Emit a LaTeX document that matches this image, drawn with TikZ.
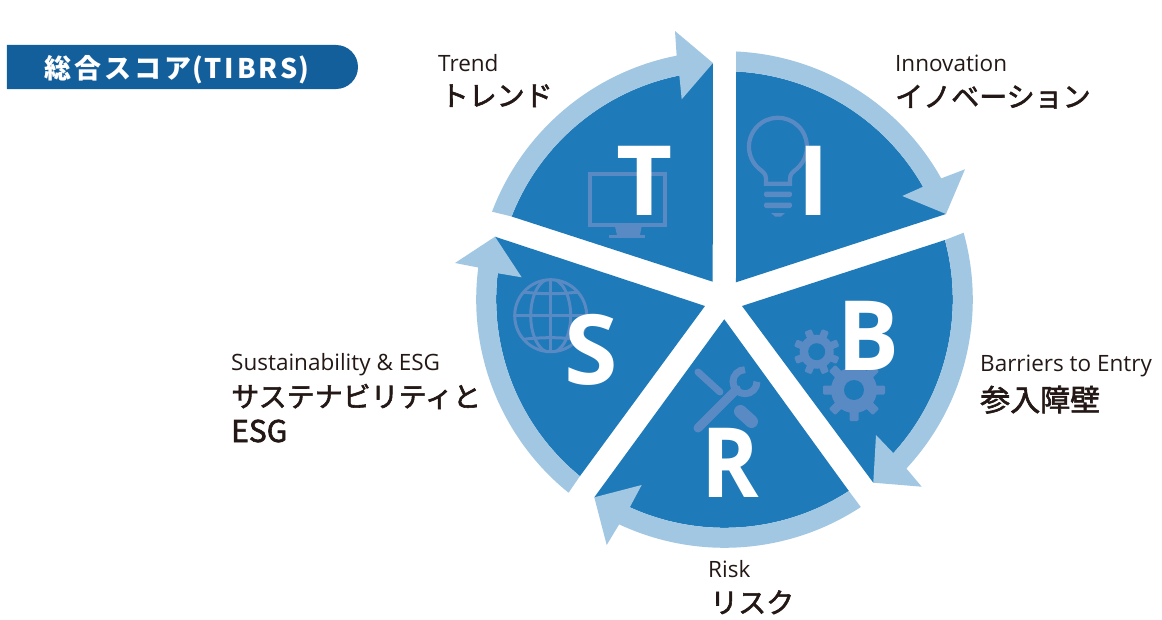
\documentclass[tikz,border=0pt]{standalone}
\usepackage{fontspec}
\setmainfont{Open Sans}
\newfontfamily\jp[FakeBold=2]{Noto Sans CJK JP}
\newfontfamily\hdr[LetterSpace=11]{Noto Sans CJK JP}
\newfontfamily\bigltr{Open Sans}
\definecolor{dk}{HTML}{1E7AB8}
\definecolor{lt}{HTML}{A2C7E2}
\definecolor{ic}{HTML}{5A8AC4}
\definecolor{hd}{HTML}{135F9C}
\definecolor{tx}{HTML}{231815}
\tikzset{
 en/.style={anchor=base west,inner sep=0pt,text=tx,font=\fontsize{22.5}{22.5}\selectfont},
 ja/.style={anchor=base west,inner sep=0pt,text=tx,font=\fontsize{28}{28}\jp},
 ltr/.style={anchor=base,inner sep=0pt,text=white,font=\fontsize{97}{97}\bigltr\bfseries},
 iconline/.style={draw=ic,line width=4pt},
 iconfill/.style={fill=ic}
}
\newcommand{\gearicon}[7]{% x y outer body hole toothw rot
 \begin{scope}[shift={(#1,#2)},rotate=#7]
  \foreach \a in {0,45,...,315}{
   \fill[ic,rotate=\a,rounded corners=1.2pt] (-#6/2,0) rectangle (#6/2,#3);}
  \fill[ic] (0,0) circle[radius=#4 pt];
  \fill[dk] (0,0) circle[radius=#5 pt];
 \end{scope}}
\begin{document}
\begin{tikzpicture}[x=1pt,y=1pt]
\useasboundingbox (-724.5,-319.5) rectangle (437.5,299.5);
% header
\fill[hd] (-717.5,254.5) -- (-388.5,254.5) arc[start angle=90,end angle=-90,radius=22pt] -- (-717.5,210.5) -- cycle;
\node[anchor=base west,inner sep=0pt,text=white,font=\fontsize{27}{27}\hdr\bfseries] (title) at (-680,221) {総合スコア\hspace{1pt}(\hspace{1pt}TIBRS\hspace{1pt})};
% sector T
\fill[dk] (-11.8,17.8) -- (158.7:228.5) arc[start angle=158.7,end angle=101.4,radius=228.5pt] -- (-11.5,236.5) -- cycle;
\fill[lt] (159.3:248.5) arc[start angle=159.3,end angle=101.1,radius=248.5pt] -- (-49.5,268.5) -- (-11.5,236.5) -- (-42.8,200.2) -- (101.4:228.5) arc[start angle=101.4,end angle=158.7,radius=228.5pt] -- cycle;
% sector I
\fill[dk] (11.5,17.2) -- (87.1:228.3) arc[start angle=87.1,end angle=29.6,radius=228.3pt] -- (221.5,85.5) -- cycle;
\fill[lt] (87.3:248.3) arc[start angle=87.3,end angle=29.2,radius=248.3pt] -- (240.5,130.2) -- (221.5,85.5) -- (177.8,103.5) -- (29.6:228.3) arc[start angle=29.6,end angle=87.1,radius=228.3pt] -- cycle;
% sector B
\fill[dk] (17.5,-6.5) -- (15.1:228.3) arc[start angle=15.1,end angle=-42.3,radius=228.3pt] -- (148.8,-183.2) -- cycle;
\fill[lt] (15.6:248.3) arc[start angle=15.6,end angle=-42.9,radius=248.3pt] -- (197.2,-187.2) -- (148.8,-183.2) -- (151.5,-135.5) -- (-42.3:228.3) arc[start angle=-42.3,end angle=15.1,radius=228.3pt] -- cycle;
% sector R
\fill[dk] (-0.2,-19.8) -- (-57:228.3) arc[start angle=-57,end angle=-114.5,radius=228.3pt] -- (-130.2,-197.8) -- cycle;
\fill[lt] (-56.7:248.3) arc[start angle=-56.7,end angle=-115.1,radius=248.3pt] -- (-117.8,-245.5) -- (-130.2,-197.8) -- (-82.8,-185.5) -- (-114.5:228.3) arc[start angle=-114.5,end angle=-57,radius=228.3pt] -- cycle;
% sector S
\fill[dk] (-19.5,-6.5) -- (230.7:228.3) arc[start angle=230.7,end angle=173.4,radius=228.3pt] -- (-229.5,62.8) -- cycle;
\fill[lt] (231.1:248.3) arc[start angle=231.1,end angle=172.6,radius=248.3pt] -- (-269.5,36.5) -- (-229.5,62.8) -- (-202.8,22.2) -- (173.4:228.3) arc[start angle=173.4,end angle=230.7,radius=228.3pt] -- cycle;
% monitor icon
\draw[iconline] (-134.2,125.8) rectangle (-59.8,74.8);
\fill[ic] (-109.5,73) -- (-82.8,73) -- (-84.5,64.5) -- (-107.5,64.5) -- cycle;
\fill[ic] (-115,64.5) rectangle (-79,61.5);
% bulb icon
\begin{scope}[shift={(53.5,152.8)}]
 \draw[iconline,line width=4.2pt] (16.6,-23.8) arc[start angle=-55,end angle=235,radius=29pt] .. controls (-12,-28) .. (-12,-37) -- (12,-37) .. controls (12,-28) .. (16.6,-23.8);
 \fill[ic,rounded corners=1.5pt] (-13.8,-44.8) rectangle (13.8,-50.3);
 \fill[ic,rounded corners=1.5pt] (-13.8,-55.8) rectangle (13.8,-61.3);
 \fill[ic] (-6.8,-66.3) -- (6.8,-66.3) -- (3,-70) -- (-3,-70) -- cycle;
\end{scope}
% globe icon
\begin{scope}[shift={(-173.8,-16.2)}]
 \begin{scope}
  \clip (0,0) circle[radius=37pt];
  \draw[ic,line width=3pt] (0,0) ellipse[x radius=20pt,y radius=37pt];
  \draw[ic,line width=3pt] (0,-38) -- (0,38);
  \draw[ic,line width=3pt] (-38,0) -- (38,0);
  \draw[ic,line width=3pt] (-38,25) .. controls (-12,21) and (12,21) .. (38,25);
  \draw[ic,line width=3pt] (-38,-25) .. controls (-12,-21) and (12,-21) .. (38,-25);
 \end{scope}
 \draw[ic,line width=3pt] (0,0) circle[radius=36pt];
\end{scope}
% gear icons
\gearicon{92.2}{-52.2}{23}{17}{8.5}{7.5}{22.5}
\gearicon{129.5}{-90.5}{31}{23}{10}{9}{0}
% tools icon
\draw[ic,line width=7pt,line cap=round] (-26.5,-72.5) -- (-4.5,-92.5);
\draw[ic,line width=9pt,line cap=round] (-26.5,-128.5) -- (12,-90);
\draw[ic,line width=7pt] (20.5,-70.2) arc[start angle=90,end angle=360,radius=12pt];
\draw[ic,line width=13pt,line cap=round] (16,-112) -- (27,-122);
% letters
\node[ltr] (lT) at (-80,84.5) {T};
\node[ltr] (lI) at (89.5,84.5) {I};
\node[ltr,xscale=0.95] (lB) at (144,-71.2) {B};
\node[ltr] (lS) at (-133.5,-84.5) {S};
\node[ltr,xscale=0.9] (lR) at (6,-198.2) {R};
% labels
\node[en] (enT) at (-286.5,228.5) {Trend};
\node[ja] (jaT) at (-284,193.5) {トレンド};
\node[en] (enI) at (170.5,228.5) {Innovation};
\node[ja] (jaI) at (170.5,192.5) {イノベーション};
\node[en] (enB) at (255.5,-71.5) {Barriers to Entry};
\node[ja,font=\fontsize{30}{30}\jp] (jaB) at (255.5,-111.5) {参入障壁};
\node[en] (enR) at (-16.5,-277.5) {Risk};
\node[ja] (jaR) at (-14.5,-313.5) {リスク};
\node[en] (enS) at (-493.5,-70.5) {Sustainability \& ESG};
\node[ja] (jaS) at (-493.5,-107.5) {サステナビリティと};
\node[ja,font=\fontsize{30}{30}\jp] (jaE) at (-493.5,-142.5) {ESG};
\end{tikzpicture}
\end{document}
